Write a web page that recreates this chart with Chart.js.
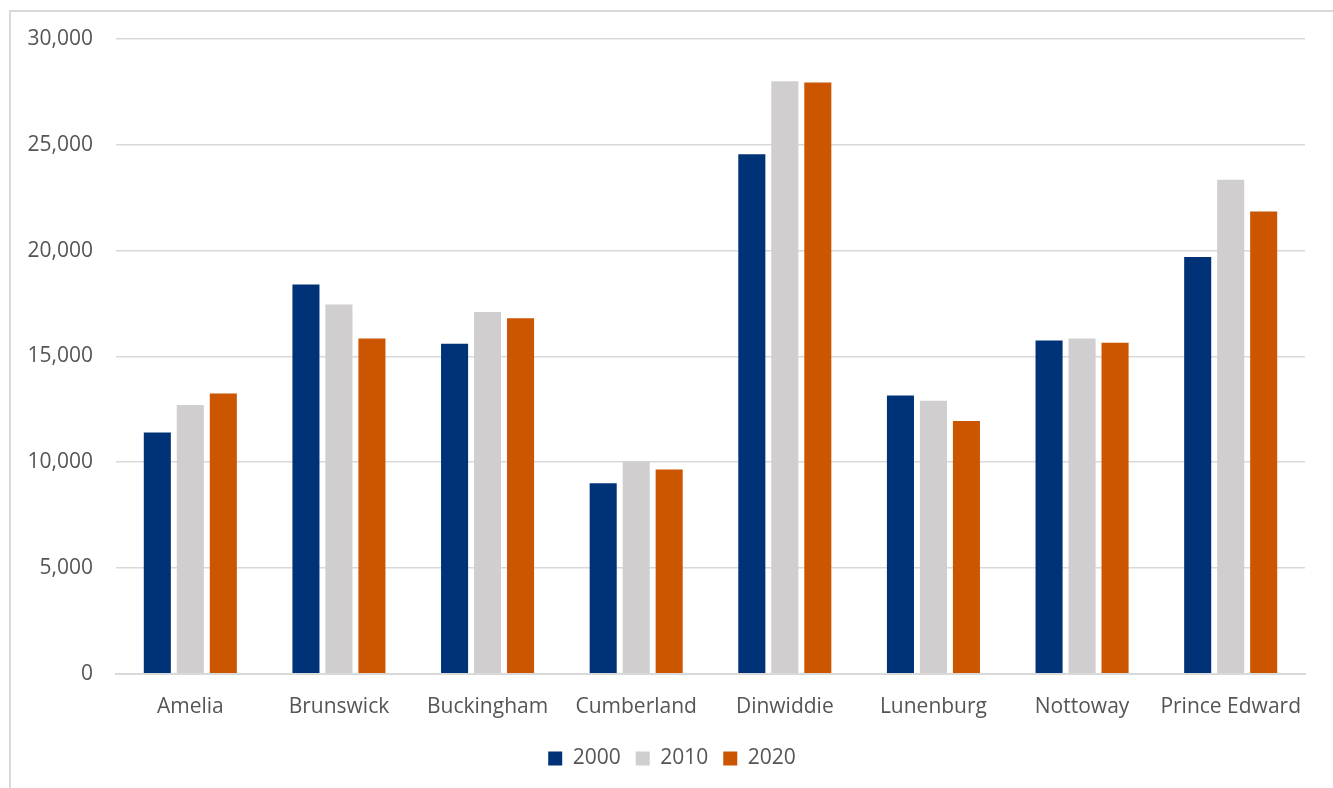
<!DOCTYPE html>
<html>
<head>
<meta charset="utf-8">
<script src="https://cdn.jsdelivr.net/npm/chart.js@4"></script>
<style>
  body { margin: 0; background: #fff; }
  #wrap { position: absolute; left: 9px; top: 10px; width: 1340px; height: 790px; border: 2px solid #d9d9d9; box-sizing: border-box; }
  #chart { display: block; }
</style>
</head>
<body>
<div id="wrap"><canvas id="chart" width="1322" height="776"></canvas></div>
<script>
const counties = ["Amelia", "Brunswick", "Buckingham", "Cumberland", "Dinwiddie", "Lunenburg", "Nottoway", "Prince Edward"];
const pop2000 = [11400, 18400, 15600, 9000, 24550, 13150, 15750, 19700];
const pop2010 = [12700, 17450, 17100, 10050, 28000, 12900, 15850, 23350];
const pop2020 = [13250, 15850, 16800, 9650, 27950, 11950, 15650, 21850];

const txt = { family: "Open Sans", size: 21 };

const ctx = document.getElementById("chart");
new Chart(ctx, {
  type: "bar",
  data: {
    labels: counties,
    datasets: [
      { label: "2000", data: pop2000, backgroundColor: "#003278" },
      { label: "2010", data: pop2010, backgroundColor: "#d0cece" },
      { label: "2020", data: pop2020, backgroundColor: "#cc5500" },
    ],
  },
  options: {
    responsive: false,
    animation: false,
    categoryPercentage: 0.666,
    barPercentage: 0.82,
    layout: { padding: { left: 0, right: 0, top: 27, bottom: 9 } },
    plugins: {
      legend: {
        position: "bottom",
        labels: { boxWidth: 14, boxHeight: 14, color: "#555555", font: txt, padding: 15 },
      },
      tooltip: { enabled: false },
    },
    scales: {
      x: {
        grid: { display: false },
        border: { color: "#d9d9d9", width: 2 },
        ticks: { color: "#555555", font: txt, padding: 13 },
      },
      y: {
        min: 0,
        max: 30000,
        afterFit: (scale) => { scale.width = 105; },
        ticks: { stepSize: 5000, color: "#555555", font: txt, padding: 0 },
        grid: { color: "#d9d9d9", lineWidth: 1.5, tickLength: 23, tickColor: "rgba(0,0,0,0)" },
        border: { display: false },
      },
      yRight: {
        position: "right",
        afterFit: (scale) => { scale.width = 28; },
        ticks: { display: false },
        grid: { display: false },
        border: { display: false },
      },
    },
  },
});
</script>
</body>
</html>
